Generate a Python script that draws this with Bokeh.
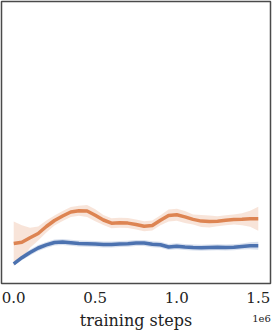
from bokeh.plotting import figure
from bokeh.models import Range1d, LinearAxis, FixedTicker
from bokeh.embed import file_html
from bokeh.resources import INLINE

# training steps (0 .. 1.5e6, every 50k)
steps = [i * 50000 for i in range(31)]

# orange series: mean and spread
orange_mean = [40.0, 41.3, 45.7, 50.0, 57.0, 63.0, 67.5, 71.5, 72.8, 72.5,
               68.2, 63.5, 60.3, 60.8, 60.4, 59.0, 57.3, 58.0, 63.2, 68.0,
               68.7, 66.6, 64.1, 62.4, 62.0, 62.3, 63.3, 64.1, 64.3, 64.7, 64.7]
orange_std = [22, 17, 10, 7, 6, 5, 5, 5, 5, 6,
              6, 5, 5, 5, 5, 5, 5, 5, 5, 6,
              6, 6, 5, 6, 6, 5, 5, 5, 6, 8, 12]

# blue series: mean and spread
blue_mean = [19.7, 25.8, 31.0, 35.5, 38.6, 41.0, 41.6, 40.7, 39.9, 39.7,
             39.6, 38.9, 38.9, 39.5, 39.7, 40.5, 40.5, 39.2, 38.7, 36.5,
             37.3, 36.5, 36.0, 35.7, 35.9, 36.2, 36.1, 36.3, 37.1, 37.7, 37.7]
blue_std = [2, 2.5, 3, 3, 3, 3, 3, 3, 3, 3,
            3, 3, 3, 3, 3, 3, 3, 3, 3, 3,
            3, 3, 3, 3, 3, 3, 3, 3, 3, 3.5, 4]

x_ticks = [0, 500000, 1000000, 1500000]
x_tick_labels = {0: "0.0", 500000: "0.5", 1000000: "1.0", 1500000: "1.5"}
offset_pos = 1520000
offset_text = "1e6"

ORANGE = "#dd8452"
BLUE = "#4c72b0"
FONT = "DejaVu Serif"

p = figure(width=272, height=335, output_backend="svg", toolbar_location=None,
           x_range=Range1d(-75000, 1575000), y_range=Range1d(0, 282),
           min_border_left=1, min_border_right=2, min_border_top=1,
           min_border_bottom=52)

p.background_fill_color = "white"
p.border_fill_color = "white"
p.outline_line_color = "#4a4a4a"
p.outline_line_width = 1.5
p.xgrid.visible = False
p.ygrid.visible = False
p.yaxis.visible = False

def band(m, s):
    lo = [a - b for a, b in zip(m, s)]
    hi = [a + b for a, b in zip(m, s)]
    return lo, hi

olo, ohi = band(orange_mean, orange_std)
blo, bhi = band(blue_mean, blue_std)

p.varea(x=steps, y1=olo, y2=ohi, fill_color=ORANGE, fill_alpha=0.22)
p.line(steps, orange_mean, line_color=ORANGE, line_width=3.5, line_join="round")
p.varea(x=steps, y1=blo, y2=bhi, fill_color=BLUE, fill_alpha=0.22)
p.line(steps, blue_mean, line_color=BLUE, line_width=3.5, line_join="round")

ax = p.xaxis[0]
ax.ticker = FixedTicker(ticks=x_ticks)
ax.major_label_overrides = x_tick_labels
ax.axis_line_color = None
ax.major_tick_line_color = None
ax.minor_tick_line_color = None
ax.major_label_text_font = FONT
ax.major_label_text_font_size = "15px"
ax.major_label_text_color = "#222222"
ax.major_label_standoff = 2
ax.axis_label = "training steps"
ax.axis_label_text_font = FONT
ax.axis_label_text_font_size = "16px"
ax.axis_label_text_font_style = "normal"
ax.axis_label_text_color = "#222222"
ax.axis_label_standoff = 5

ax2 = LinearAxis(ticker=FixedTicker(ticks=[offset_pos]),
                 major_label_overrides={offset_pos: offset_text})
ax2.axis_line_color = None
ax2.major_tick_line_color = None
ax2.minor_tick_line_color = None
ax2.major_label_text_font = FONT
ax2.major_label_text_font_size = "10px"
ax2.major_label_text_color = "#222222"
ax2.major_label_standoff = -24
p.add_layout(ax2, "below")

open("out.html", "w").write(file_html(p, INLINE))
